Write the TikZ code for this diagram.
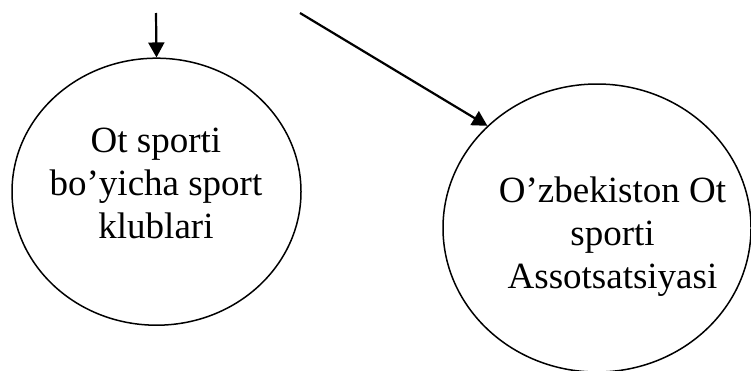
\documentclass[tikz,border=0pt]{standalone}
\usepackage{fontspec}
\setmainfont{Liberation Serif}
\usetikzlibrary{shapes.geometric,arrows.meta}
\begin{document}
\begin{tikzpicture}[x=1pt,y=-1pt,
  bubble/.style={draw, ellipse, line width=1.5pt, inner sep=0pt},
  label/.style={align=center, inner sep=0pt, anchor=base,
    font=\fontsize{37}{43}\selectfont},
  conn/.style={line width=2.2pt, -{Triangle[width=16pt,length=15pt]}}]
\useasboundingbox (0,0) rectangle (751,370);
\node[bubble, minimum width=289pt, minimum height=267pt] (e1) at (156.5,191.7) {};
\node[bubble, minimum width=308pt, minimum height=288pt] (e2) at (597,228) {};
\node[label] (t1) at (156,238) {Ot sporti\\bo’yicha sport\\klublari};
\node[label] (t2) at (612.5,288) {O’zbekiston Ot\\sporti\\Assotsatsiyasi};
\coordinate (s1) at (156,13);
\coordinate (s2) at (300,13);
\draw[conn] (s1) -- (e1.north);
\draw[conn] (s2) -- (e2.137.8);
\end{tikzpicture}
\end{document}
